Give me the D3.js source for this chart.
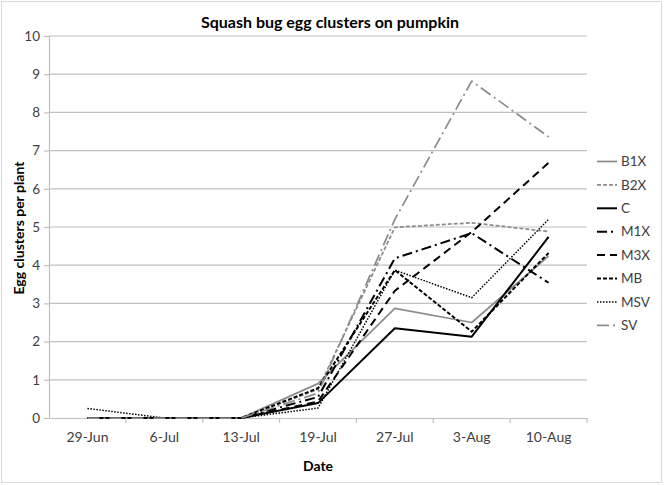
<!DOCTYPE html>
<html><head><meta charset="utf-8">
<script src="https://cdn.jsdelivr.net/npm/d3@7"></script>
<style>
body{margin:0;background:#fff;}
text{font-family:Lato,"Open Sans",sans-serif;}
</style></head>
<body><svg id="c" width="664" height="485"></svg>
<script>
const dates = ["29-Jun","6-Jul","13-Jul","19-Jul","27-Jul","3-Aug","10-Aug"];
const B1X = [0,0,0,0.9,2.87,2.5,4.24];
const B2X = [0,0,0,0.75,4.99,5.11,4.88];
const C   = [0,0,0,0.39,2.35,2.13,4.74];
const M1X = [0,0,0,0.55,4.18,4.84,3.54];
const M3X = [0,0,0,0.43,3.33,4.87,6.68];
const MB  = [0,0,0,0.78,3.87,2.26,4.32];
const MSV = [0.25,0,0,0.26,3.87,3.15,5.2];
const SV  = [0,0,0,0.65,5.2,8.82,7.36];
const yTicks = [0,1,2,3,4,5,6,7,8,9,10];

const series = [
  {name:"B1X", values:B1X, color:"#8c8c8c", dash:null, w:1.75},
  {name:"B2X", values:B2X, color:"#8c8c8c", dash:"4,2", w:1.75},
  {name:"C",   values:C,   color:"#000", dash:null, w:2},
  {name:"M1X", values:M1X, color:"#000", dash:"10,4,2,4", w:2},
  {name:"M3X", values:M3X, color:"#000", dash:"8,5", w:2},
  {name:"MB",  values:MB,  color:"#000", dash:"4,2", w:2},
  {name:"MSV", values:MSV, color:"#000", dash:"1.5,1.5", w:1.5},
  {name:"SV",  values:SV,  color:"#8c8c8c", dash:"12,4,2,4", w:1.75}
];

const svg = d3.select("#c");
svg.append("rect").attr("x",1.5).attr("y",1.5).attr("width",660).attr("height",481)
  .attr("fill","#fff").attr("stroke","#d9d9d9");

const L=49, R=587, T=36, B=418;
const x = d3.scaleBand().domain(dates).range([L,R]);
const y = d3.scaleLinear().domain([0,10]).range([B,T]);

svg.append("g").selectAll("line").data(yTicks.filter(d=>d>0)).join("line")
  .attr("x1",L).attr("x2",R).attr("y1",d=>y(d)).attr("y2",d=>y(d))
  .attr("stroke","#c0c0c0").attr("stroke-width",1.2);

const ya = svg.append("g").attr("transform",`translate(${L},0)`)
  .call(d3.axisLeft(y).tickValues(yTicks).tickSize(5).tickPadding(4));
ya.select(".domain").attr("stroke","#c0c0c0").attr("stroke-width",1.2);
ya.selectAll(".tick line").attr("stroke","#c0c0c0").attr("stroke-width",1.2);
ya.selectAll("text").attr("font-size",13.5).attr("fill","#404040").attr("font-family","Lato,sans-serif");

const xa = svg.append("g").attr("transform",`translate(0,${B})`)
  .call(d3.axisBottom(x).tickSize(0).tickPadding(14));
xa.select(".domain").attr("stroke","#c0c0c0").attr("stroke-width",1.2);
xa.selectAll("text").attr("font-size",14).attr("fill","#404040").attr("font-family","Lato,sans-serif");
svg.append("g").selectAll("line").data(dates).join("line")
  .attr("x1",d=>x(d)+x.bandwidth()).attr("x2",d=>x(d)+x.bandwidth())
  .attr("y1",B).attr("y2",B+5).attr("stroke","#c0c0c0").attr("stroke-width",1.2);

const line = d3.line().x((d,i)=>x(dates[i])+x.bandwidth()/2).y(d=>y(d));
svg.append("g").selectAll("path").data(series).join("path")
  .attr("d",d=>line(d.values)).attr("fill","none")
  .attr("stroke",d=>d.color).attr("stroke-width",d=>d.w)
  .attr("stroke-dasharray",d=>d.dash).attr("stroke-linejoin","round");

const lg = svg.append("g").selectAll("g").data(series).join("g")
  .attr("transform",(d,i)=>`translate(597,${161.5+i*23.4})`);
lg.append("line").attr("x1",0).attr("x2",20).attr("y1",0).attr("y2",0)
  .attr("stroke",d=>d.color).attr("stroke-width",d=>d.w).attr("stroke-dasharray",d=>d.dash);
lg.append("text").attr("x",24).attr("y",0).attr("dy","0.35em").attr("font-size",13.5)
  .attr("fill","#404040").text(d=>d.name);

svg.append("text").attr("x",330).attr("y",28).attr("text-anchor","middle")
  .attr("font-size",16).attr("font-weight","bold").attr("fill","#000")
  .text("Squash bug egg clusters on pumpkin");
svg.append("text").attr("x",318).attr("y",471).attr("text-anchor","middle")
  .attr("font-size",14).attr("font-weight","bold").attr("fill","#000").text("Date");
svg.append("text").attr("transform","translate(24,228) rotate(-90)").attr("text-anchor","middle")
  .attr("font-size",14).attr("font-weight","bold").attr("fill","#000").text("Egg clusters per plant");
</script></body></html>
